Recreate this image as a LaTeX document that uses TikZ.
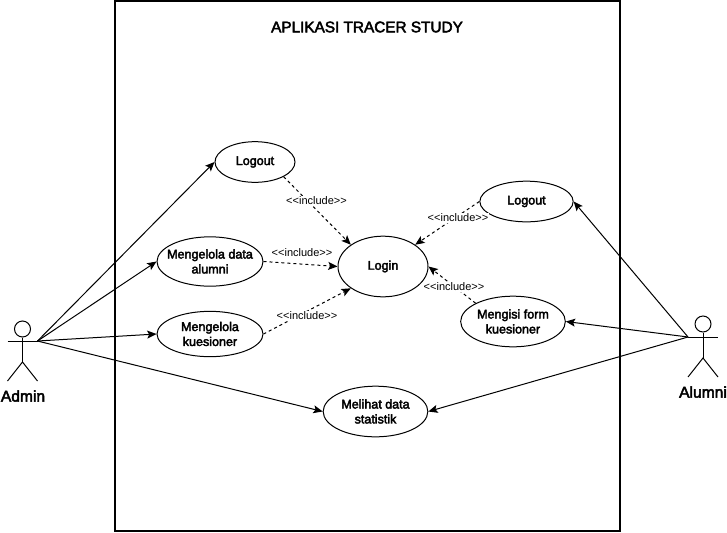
\documentclass[tikz,border=0pt]{standalone}
\usepackage{fontspec}
\setmainfont{Liberation Sans}
\newfontfamily\medfont{Liberation Sans}[FakeBold=3]
\usetikzlibrary{
    shapes.geometric, arrows.meta, positioning
}
\tikzset{
  usecase/.style={ellipse, draw, line width=0.75pt, inner sep=-8pt,
               align=center, font=\fontsize{9.4}{11.2}\medfont},
  head/.style={circle, draw, line width=0.75pt, minimum size=12pt, inner sep=0pt},
  limb/.style={line width=0.75pt},
  actorname/.style={inner sep=0pt, font=\fontsize{11.7}{13}\medfont},
  incl/.style={fill=white, inner sep=0.5pt, font=\fontsize{8.25}{10}\selectfont},
  arr/.style={-{Stealth[length=7pt, width=6pt, inset=1.5pt]}, line width=0.75pt},
  dep/.style={arr, dash pattern=on 2.25pt off 2.25pt},
}
\begin{document}
\begin{tikzpicture}[x=0.75pt, y=-0.75pt]

  \useasboundingbox (0,0) rectangle (727,532);

  % system boundary
  \draw[line width=1.5pt] (114.5,1) rectangle (620,531);
  \node[font=\fontsize{11.5}{13}\medfont] (title) at (367,27) {APLIKASI TRACER STUDY};

  % use cases
  \node[usecase, minimum width=60pt, minimum height=30.5pt] (logoutA) at (255,162) {Logout};
  \node[usecase, minimum width=79.5pt, minimum height=37pt] (dataalumni) at (210,261.5) {Mengelola data\\alumni};
  \node[usecase, minimum width=79.5pt, minimum height=34pt] (kuesioner) at (210,334) {Mengelola\\kuesioner};
  \node[usecase, minimum width=67.5pt, minimum height=45.5pt] (login) at (383,266.5) {Login};
  \node[usecase, minimum width=70pt, minimum height=30.5pt] (logoutB) at (526.5,201.5) {Logout};
  \node[usecase, minimum width=78.5pt, minimum height=38pt] (form) at (513,321.5) {Mengisi form\\kuesioner};
  \node[usecase, minimum width=78.5pt, minimum height=38pt] (statistik) at (375.5,411.5) {Melihat data\\statistik};

  % actors
  \node[head] (adminhead) at (22.5,329) {};
  \coordinate (adminwaist) at (22.5,362);
  \coordinate (adminL) at (7.5,341);
  \coordinate (adminR) at (37.5,341);
  \draw[limb] (adminhead) -- (adminwaist);
  \draw[limb] (adminL) -- (adminR);
  \draw[limb] (7.5,381) -- (adminwaist) -- (37.5,381);
  \node[actorname] (admin) at (23,396) {Admin};

  \node[head] (alumnihead) at (703,324) {};
  \coordinate (alumniwaist) at (703,358);
  \coordinate (alumniL) at (688,337);
  \coordinate (alumniR) at (718,337);
  \draw[limb] (alumnihead) -- (alumniwaist);
  \draw[limb] (alumniL) -- (alumniR);
  \draw[limb] (688,377) -- (alumniwaist) -- (718,377);
  \node[actorname] (alumni) at (703,392) {Alumni};

  % associations
  \draw[arr] (adminR) -- (logoutA.west);
  \draw[arr] (adminR) -- (dataalumni.west);
  \draw[arr] (adminR) -- (kuesioner.west);
  \draw[arr] (adminR) -- (statistik.west);
  \draw[arr] (alumniL) -- (logoutB.east);
  \draw[arr] (alumniL) -- (form.east);
  \draw[arr] (alumniL) -- (statistik.east);

  % includes
  \draw[dep] (logoutA.south east) -- (login.north west);
  \draw[dep] (dataalumni.east) -- (login.west);
  \draw[dep] (kuesioner.east) -- (login.south west);
  \draw[dep] (logoutB.west) -- (login.north east);
  \draw[dep] (form.north west) -- (login.east);

  \node[incl] (incl1) at (316.5,201) {<{}<include>{}>};
  \node[incl] (incl2) at (302,253) {<{}<include>{}>};
  \node[incl] (incl3) at (307,316) {<{}<include>{}>};
  \node[incl] (incl4) at (458,218) {<{}<include>{}>};
  \node[incl] (incl5) at (454,287) {<{}<include>{}>};

\end{tikzpicture}
\end{document}
